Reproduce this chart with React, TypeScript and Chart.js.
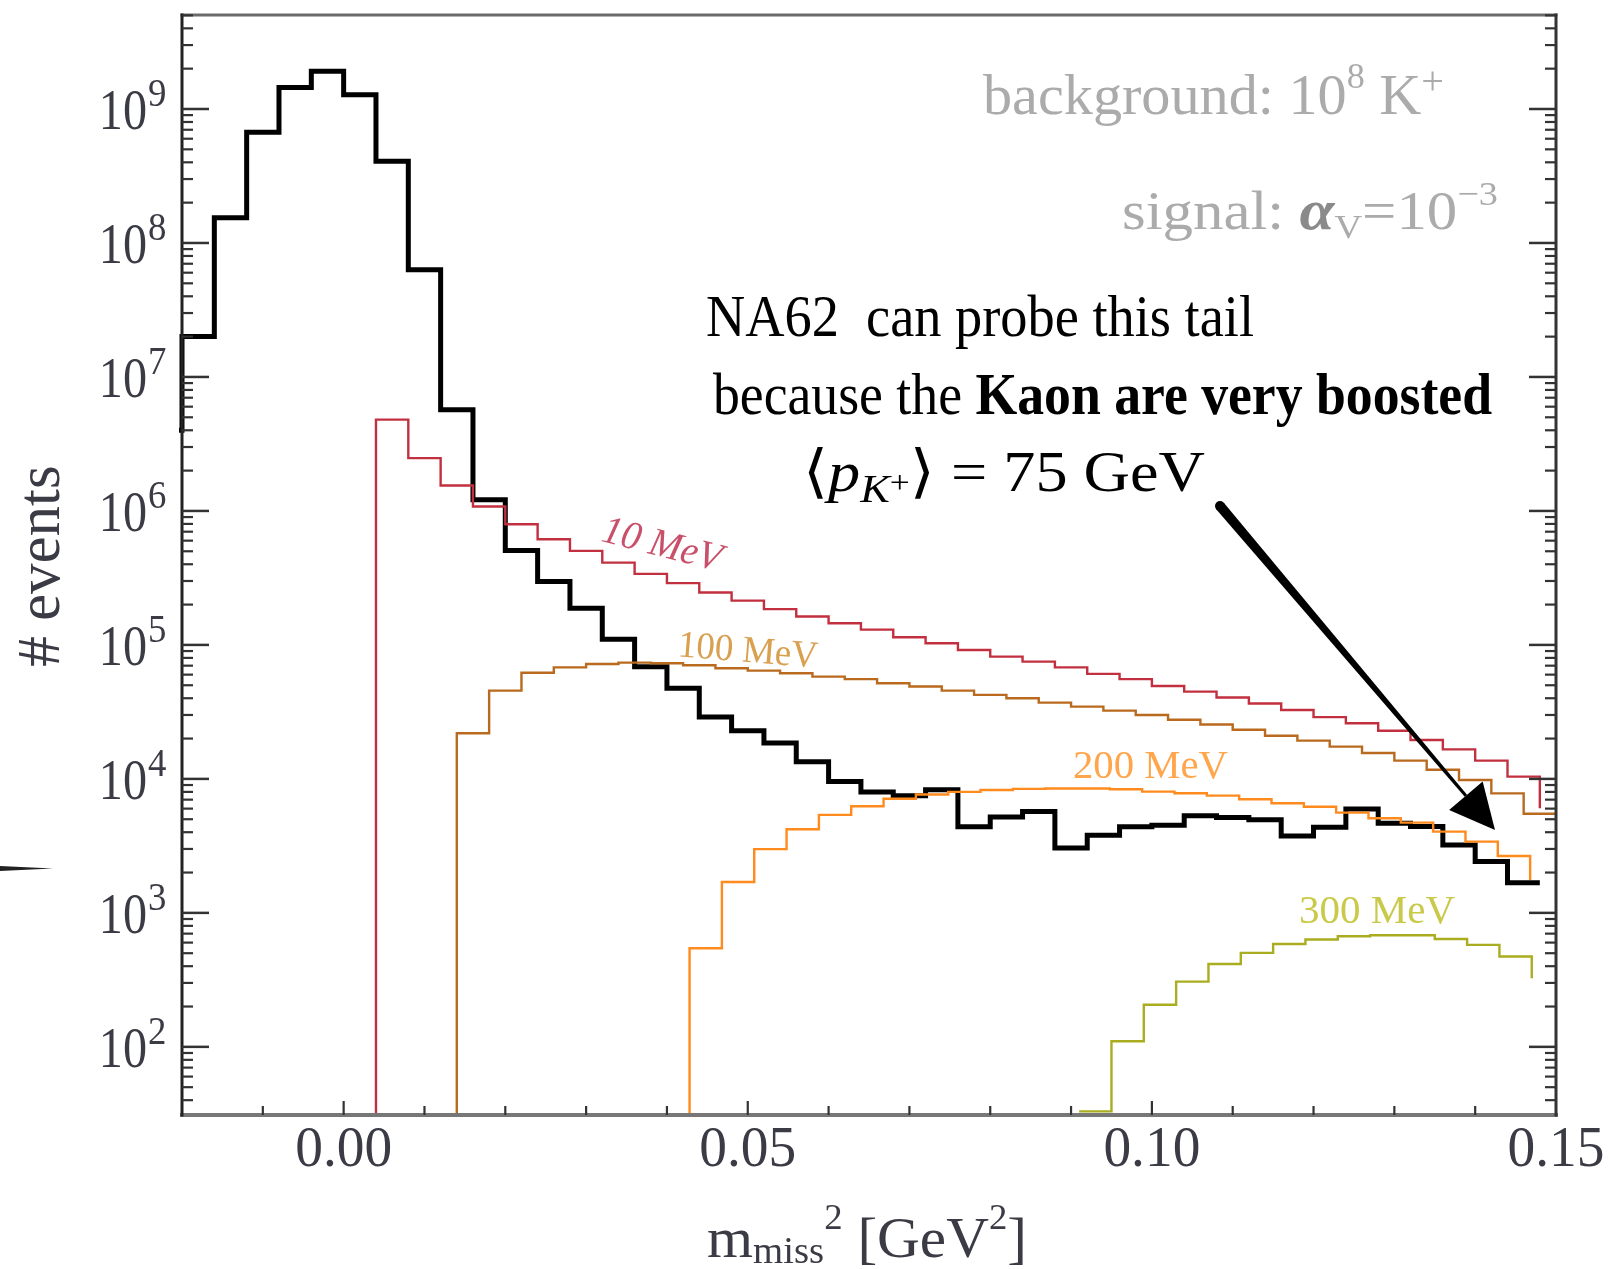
import React, { useEffect, useRef } from "react";
import { Chart, registerables } from "chart.js";

Chart.register(...registerables);

// ---------------- data ----------------
const BIN_WIDTH = 0.004;
const X_MIN = -0.02;
const X_MAX = 0.15;
const Y_MIN = 31.0;
const Y_MAX = 5.03e9;

// background (black), bins start at -0.024
const bgStart = -0.024;
const bgValues = [
  4e6, 2.0e7, 1.54e8, 6.7e8, 1.45e9, 1.91e9, 1.28e9, 4.07e8, 6.3e7, 5.7e6,
  1.21e6, 5.06e5, 2.97e5, 1.88e5, 1.1e5, 6.88e4, 4.75e4, 2.9e4, 2.29e4, 1.85e4,
  1.34e4, 9.55e3, 8.0e3, 7.5e3, 8.3e3, 4.4e3, 5.2e3, 5.7e3, 3.05e3, 3.8e3,
  4.4e3, 4.5e3, 5.3e3, 5.15e3, 4.95e3, 3.75e3, 4.35e3, 5.95e3, 4.67e3, 4.41e3,
  3.21e3, 2.42e3, 1.68e3,
];

// 10 MeV (red)
const mev10Start = 0.004;
const mev10Values = [
  4.8e6, 2.48e6, 1.55e6, 1.08e6, 7.96e5, 6.15e5, 5.03e5, 4.11e5, 3.39e5, 2.89e5,
  2.46e5, 2.14e5, 1.85e5, 1.63e5, 1.45e5, 1.3e5, 1.14e5, 1.03e5, 9.17e4, 8.18e4,
  7.5e4, 6.8e4, 6.08e4, 5.55e4, 4.94e4, 4.48e4, 4.05e4, 3.65e4, 3.27e4, 2.89e4,
  2.6e4, 2.29e4, 1.95e4, 1.66e4, 1.37e4, 1.04e4,
];
const mev10End = 6.04e3;

// 100 MeV (brown)
const mev100Start = 0.014;
const mev100Values = [
  2.19e4, 4.56e4, 6.2e4, 6.8e4, 7.2e4, 7.38e4, 7.3e4, 7.05e4, 6.7e4, 6.43e4,
  6.15e4, 5.8e4, 5.55e4, 5.18e4, 4.89e4, 4.56e4, 4.24e4, 4.0e4, 3.71e4, 3.46e4,
  3.23e4, 3.0e4, 2.76e4, 2.55e4, 2.33e4, 2.1e4, 1.93e4, 1.74e4, 1.56e4, 1.37e4,
  1.17e4, 9.8e3, 7.8e3, 5.5e3,
];

// 200 MeV (orange)
const mev200Start = 0.0428;
const mev200Values = [
  545, 1.7e3, 2.99e3, 4.21e3, 5.39e3, 6.25e3, 7.1e3, 7.65e3, 8.0e3, 8.26e3,
  8.42e3, 8.47e3, 8.47e3, 8.37e3, 8.04e3, 7.81e3, 7.5e3, 7.05e3, 6.58e3, 6.2e3,
  5.6e3, 5.08e3, 4.72e3, 4.04e3, 3.4e3, 2.66e3,
];
const mev200End = 1.76e3;

// 300 MeV (olive)
const mev300Start = 0.091;
const mev300Values = [33, 110, 206, 307, 415, 503, 585, 633, 670, 680, 680, 638, 577, 472];
const mev300End = 325;

// axis ticks
const yTickExponents = [2, 3, 4, 5, 6, 7, 8, 9];
const yMinorMultipliers = [2, 3, 4, 5, 6, 7, 8, 9];
const xMinorTicks = [-0.01, 0.0, 0.01, 0.02, 0.03, 0.04, 0.05, 0.06, 0.07, 0.08, 0.09, 0.1, 0.11, 0.12, 0.13, 0.14];
const xMajorTicks = [0.0, 0.05, 0.1];
const xTickValues = [0.0, 0.05, 0.1, 0.15];
const xTickLabels = ["0.00", "0.05", "0.10", "0.15"];

// ---------------- helpers ----------------
function histPoints(start: number, values: number[], fromFloor: boolean, endValue?: number) {
  const pts: { x: number; y: number }[] = [];
  if (fromFloor) pts.push({ x: start, y: 1 });
  values.forEach((v, i) => pts.push({ x: start + i * BIN_WIDTH, y: v }));
  const endX = start + values.length * BIN_WIDTH;
  pts.push({ x: endX, y: endValue !== undefined ? endValue : values[values.length - 1] });
  return pts;
}

const SERIF = '"Liberation Serif", "DejaVu Serif", serif';
const f = (size: number, style = "") => `${style} ${size}px ${SERIF}`.trim();

type Run = { t: string; f: string; c: string; dy?: number };
function drawRuns(
  ctx: CanvasRenderingContext2D,
  runs: Run[],
  x: number,
  y: number,
  o: { align?: "left" | "center" | "right"; width?: number; sx?: number; rot?: number } = {}
) {
  ctx.save();
  let W = 0;
  const ws = runs.map((r) => {
    ctx.font = r.f;
    const w = ctx.measureText(r.t).width;
    W += w;
    return w;
  });
  let sx = o.sx ?? 1;
  if (o.width) sx = o.width / W;
  ctx.translate(x, y);
  if (o.rot) ctx.rotate(o.rot);
  ctx.scale(sx, 1);
  let cx = o.align === "center" ? -W / 2 : o.align === "right" ? -W : 0;
  ctx.textBaseline = "alphabetic";
  ctx.textAlign = "left";
  runs.forEach((r, i) => {
    ctx.font = r.f;
    ctx.fillStyle = r.c;
    ctx.fillText(r.t, cx, r.dy ?? 0);
    cx += ws[i];
  });
  ctx.restore();
}

function line(ctx: CanvasRenderingContext2D, x1: number, y1: number, x2: number, y2: number) {
  ctx.beginPath();
  ctx.moveTo(x1, y1);
  ctx.lineTo(x2, y2);
  ctx.stroke();
}

const LABEL = "#3b3b45";
const GRAY = "#ababab";

const decorPlugin = {
  id: "decor",
  afterDatasetsDraw(chart: any) {
    const ctx: CanvasRenderingContext2D = chart.ctx;
    const { left, right, top, bottom } = chart.chartArea;
    const xs = chart.scales.x;
    const ys = chart.scales.y;
    ctx.save();

    // frame
    ctx.lineCap = "square";
    ctx.strokeStyle = "#6b6b6b";
    ctx.lineWidth = 3;
    line(ctx, left, top, right, top);
    ctx.strokeStyle = "#777";
    ctx.lineWidth = 4;
    line(ctx, left, bottom, right, bottom);
    ctx.strokeStyle = "#222";
    ctx.lineWidth = 3;
    line(ctx, left, top, left, bottom);
    ctx.strokeStyle = "#333";
    line(ctx, right, top, right, bottom);

    // y ticks (both sides, inward)
    ctx.lineCap = "butt";
    ctx.strokeStyle = "#333";
    for (const e of [1, ...yTickExponents]) {
      const base = Math.pow(10, e);
      if (base >= Y_MIN && base <= Y_MAX) {
        const py = ys.getPixelForValue(base);
        ctx.lineWidth = 2.5;
        line(ctx, left, py, left + 27, py);
        line(ctx, right, py, right - 27, py);
      }
      for (const m of yMinorMultipliers) {
        const v = m * base;
        if (v < Y_MIN || v > Y_MAX) continue;
        const py = ys.getPixelForValue(v);
        ctx.lineWidth = 2.2;
        line(ctx, left, py, left + 11, py);
        line(ctx, right, py, right - 11, py);
      }
    }
    // x ticks (bottom, inward)
    for (const v of xMinorTicks) {
      const px = xs.getPixelForValue(v);
      const major = xMajorTicks.some((m) => Math.abs(m - v) < 1e-9);
      ctx.lineWidth = 2.2;
      line(ctx, px, bottom, px, bottom - (major ? 14 : 9));
    }

    // y tick labels 10^n
    for (const e of yTickExponents) {
      const py = ys.getPixelForValue(Math.pow(10, e));
      drawRuns(ctx, [{ t: "10", f: f(58), c: LABEL }], left - 35, py + 20, { align: "right", sx: 0.83 });
      drawRuns(ctx, [{ t: String(e), f: f(40), c: LABEL }], left - 34, py - 3, { align: "left", sx: 0.92 });
    }
    // x tick labels
    xTickValues.forEach((v, i) => {
      const px = xs.getPixelForValue(v);
      drawRuns(ctx, [{ t: xTickLabels[i], f: f(58), c: LABEL }], px, bottom + 51, { align: "center", sx: 0.955 });
    });

    // axis titles
    drawRuns(ctx, [{ t: "# events", f: f(61), c: LABEL }], 59, 566, { align: "center", rot: -Math.PI / 2 });
    drawRuns(
      ctx,
      [
        { t: "m", f: f(58), c: LABEL },
        { t: "miss", f: f(38), c: LABEL, dy: 6 },
        { t: "2", f: f(36), c: LABEL, dy: -28 },
        { t: " [GeV", f: f(58), c: LABEL },
        { t: "2", f: f(36), c: LABEL, dy: -28 },
        { t: "]", f: f(58), c: LABEL },
      ],
      707,
      1257,
      { width: 320 }
    );

    // info texts
    drawRuns(
      ctx,
      [
        { t: "background: 10", f: f(58), c: GRAY },
        { t: "8", f: f(36), c: GRAY, dy: -26 },
        { t: " K", f: f(58), c: GRAY },
        { t: "+", f: f(40), c: GRAY, dy: -20 },
      ],
      983,
      114,
      { width: 461 }
    );
    drawRuns(
      ctx,
      [
        { t: "signal: ", f: f(54), c: GRAY },
        { t: "α", f: f(56, "italic bold"), c: "#8a8a8a" },
        { t: "V", f: f(34), c: GRAY, dy: 9 },
        { t: "=10", f: f(54), c: GRAY },
        { t: "−3", f: f(34), c: GRAY, dy: -24 },
      ],
      1122,
      229,
      { width: 376 }
    );

    drawRuns(ctx, [{ t: "NA62  can probe this tail", f: f(60), c: "#000" }], 706, 336, { width: 548 });
    drawRuns(
      ctx,
      [
        { t: "because the ", f: f(60), c: "#000" },
        { t: "Kaon are very boosted", f: f(60, "bold"), c: "#000" },
      ],
      713,
      414,
      { width: 779 }
    );
    drawRuns(
      ctx,
      [
        { t: "⟨", f: f(58), c: "#000" },
        { t: "p", f: f(58, "italic"), c: "#000" },
        { t: "K", f: f(40, "italic"), c: "#000", dy: 11 },
        { t: "+", f: f(32), c: "#000", dy: 2 },
        { t: "⟩", f: f(58), c: "#000" },
        { t: " = 75 GeV", f: f(58), c: "#000" },
      ],
      803,
      491,
      { width: 402 }
    );

    // curve labels
    drawRuns(ctx, [{ t: "10 MeV", f: f(40, "italic"), c: "#c8506a" }], 659, 556, {
      align: "center",
      width: 122,
      rot: (14.4 * Math.PI) / 180,
    });
    drawRuns(ctx, [{ t: "100 MeV", f: f(38), c: "#d9a050" }], 747, 662, {
      align: "center",
      width: 140,
      rot: (4.7 * Math.PI) / 180,
    });
    drawRuns(ctx, [{ t: "200 MeV", f: f(40), c: "#ffa64d" }], 1073, 778, { width: 155 });
    drawRuns(ctx, [{ t: "300 MeV", f: f(41), c: "#c9c94a" }], 1299, 923, { width: 156 });

    // arrow
    const S = { x: 1220, y: 506 };
    const T = { x: 1495, y: 830 };
    const dx = T.x - S.x;
    const dy = T.y - S.y;
    const L = Math.hypot(dx, dy);
    const u = { x: dx / L, y: dy / L };
    const n = { x: -u.y, y: u.x };
    const B = { x: T.x - 45 * u.x, y: T.y - 45 * u.y };
    ctx.fillStyle = "#000";
    ctx.beginPath();
    ctx.moveTo(S.x + 5 * n.x, S.y + 5 * n.y);
    ctx.lineTo(B.x + 1.5 * n.x, B.y + 1.5 * n.y);
    ctx.lineTo(B.x - 1.5 * n.x, B.y - 1.5 * n.y);
    ctx.lineTo(S.x - 5 * n.x, S.y - 5 * n.y);
    ctx.closePath();
    ctx.fill();
    ctx.beginPath();
    ctx.arc(S.x, S.y, 5, 0, Math.PI * 2);
    ctx.fill();
    ctx.beginPath();
    ctx.moveTo(T.x, T.y);
    ctx.lineTo(B.x + 22 * n.x, B.y + 22 * n.y);
    ctx.lineTo(B.x - 22 * n.x, B.y - 22 * n.y);
    ctx.closePath();
    ctx.fill();

    // small stray mark at left edge of the original slide
    ctx.fillStyle = "#222";
    ctx.beginPath();
    ctx.moveTo(0, 866);
    ctx.lineTo(53, 868.5);
    ctx.lineTo(0, 871);
    ctx.closePath();
    ctx.fill();

    ctx.restore();
  },
};

export default function App() {
  const ref = useRef<HTMLCanvasElement>(null);
  useEffect(() => {
    if (!ref.current) return;
    const common = {
      stepped: "before" as const,
      pointRadius: 0,
      fill: false,
      tension: 0,
      borderJoinStyle: "miter" as const,
      borderCapStyle: "butt" as const,
      clip: 0,
    };
    const chart = new Chart(ref.current, {
      type: "line",
      data: {
        datasets: [
          { ...common, label: "300 MeV", data: histPoints(mev300Start, mev300Values, false, mev300End), borderColor: "#a9ad1f", borderWidth: 2.4, order: 1 },
          { ...common, label: "200 MeV", data: histPoints(mev200Start, mev200Values, true, mev200End), borderColor: "#ff8a1e", borderWidth: 2.4, order: 2 },
          { ...common, label: "100 MeV", data: histPoints(mev100Start, mev100Values, true), borderColor: "#b96a1e", borderWidth: 2.4, order: 3 },
          { ...common, label: "10 MeV", data: histPoints(mev10Start, mev10Values, true, mev10End), borderColor: "#c23040", borderWidth: 2.4, order: 4 },
          {
            ...common,
            label: "background",
            data: histPoints(bgStart, bgValues, false),
            borderColor: "#000000",
            borderWidth: 5,
            order: 10,
            clip: { left: 3, top: 0, right: 0, bottom: 0 },
          },
        ],
      },
      options: {
        responsive: false,
        animation: false,
        devicePixelRatio: 1,
        events: [],
        parsing: true,
        layout: { padding: { left: 182, top: 15, right: 54, bottom: 154 } },
        plugins: { legend: { display: false }, tooltip: { enabled: false } },
        scales: {
          x: { type: "linear", min: X_MIN, max: X_MAX, display: false },
          y: { type: "logarithmic", min: Y_MIN, max: Y_MAX, display: false },
        },
      },
      plugins: [decorPlugin],
    });
    return () => chart.destroy();
  }, []);
  return (
    <div style={{ position: "fixed", left: 0, top: 0, width: 1610, height: 1269, background: "#fff" }}>
      <canvas ref={ref} width={1610} height={1269} style={{ display: "block", width: 1610, height: 1269 }} />
    </div>
  );
}
